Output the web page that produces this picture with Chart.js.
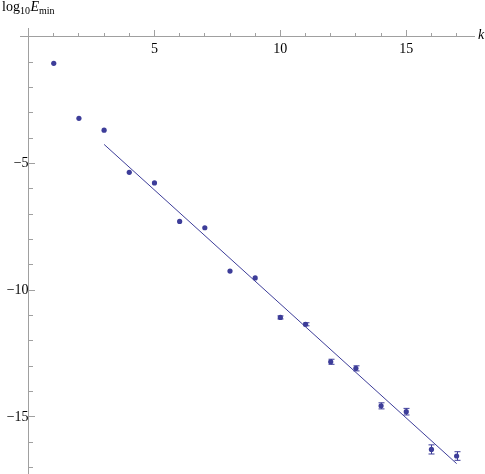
<!DOCTYPE html>
<html>
<head>
<meta charset="utf-8">
<script src="https://cdn.jsdelivr.net/npm/chart.js@4.4.1/dist/chart.umd.min.js"></script>
<style>
html,body{margin:0;padding:0;background:#fff;}
canvas{display:block;}
</style>
</head>
<body>
<canvas id="c" width="485" height="474"></canvas>
<script>
// ---- data ----
const kValues = [1,2,3,4,5,6,7,8,9,10,11,12,13,14,15,16,17];
const log10Emin = [-1.04,-3.21,-3.68,-5.34,-5.76,-7.28,-7.53,-9.24,-9.51,-11.07,-11.34,-12.82,-13.08,-14.56,-14.79,-16.28,-16.54];
const errors = [0,0,0,0,0,0,0,0,0,0.06,0.06,0.10,0.10,0.12,0.13,0.18,0.17];
const fitK = [3,17];
const fitY = [-4.24,-16.84];
const xMajorStep = 5, yMajorStep = 5;

const COL = '#3d3d99';
const AXIS = '#a0a0a0';
const FONT = "'Liberation Serif', 'Times New Roman', serif";

const xMin = -0.34, xMax = 17.69, yMin = -17.25, yMax = 0.355;

const errorBars = {
  id: 'errorBars',
  afterDatasetsDraw(chart) {
    const ctx = chart.ctx, xs = chart.scales.x, ys = chart.scales.y;
    ctx.save();
    ctx.strokeStyle = COL;
    ctx.lineWidth = 1;
    kValues.forEach((k, i) => {
      const e = errors[i];
      if (!e) return;
      const px = Math.round(xs.getPixelForValue(k)) + 0.5;
      const y1 = ys.getPixelForValue(log10Emin[i] + e);
      const y2 = ys.getPixelForValue(log10Emin[i] - e);
      ctx.beginPath();
      ctx.moveTo(px, y1); ctx.lineTo(px, y2);
      ctx.moveTo(px - 3, y1); ctx.lineTo(px + 3, y1);
      ctx.moveTo(px - 3, y2); ctx.lineTo(px + 3, y2);
      ctx.stroke();
    });
    ctx.restore();
  }
};

const axisLabels = {
  id: 'axisLabels',
  afterDraw(chart) {
    const ctx = chart.ctx;
    ctx.save();
    ctx.fillStyle = '#000';
    ctx.textBaseline = 'alphabetic';
    ctx.textAlign = 'left';
    let x = 2;
    ctx.font = '14px ' + FONT;
    ctx.fillText('log', x, 11); x += ctx.measureText('log').width;
    ctx.font = '10px ' + FONT;
    ctx.fillText('10', x, 14); x += ctx.measureText('10').width + 0.5;
    ctx.font = 'italic 14px ' + FONT;
    ctx.fillText('E', x, 11); x += ctx.measureText('E').width;
    ctx.font = '10px ' + FONT;
    ctx.fillText('min', x, 14);
    ctx.font = 'italic 14px ' + FONT;
    ctx.fillText('k', 478, 39);
    ctx.restore();
  }
};

const fmt = v => v === 0 ? '' : String(v).replace('-', '\u2212');
const noPad = s => { s.paddingTop = 0; s.paddingBottom = 0; s.paddingLeft = 0; s.paddingRight = 0; };

new Chart(document.getElementById('c'), {
  type: 'scatter',
  data: {
    datasets: [
      {
        data: kValues.map((k, i) => ({x: k, y: log10Emin[i]})),
        backgroundColor: COL,
        borderWidth: 0,
        pointRadius: 2.6,
        showLine: false
      },
      {
        type: 'line',
        data: fitK.map((k, i) => ({x: k, y: fitY[i]})),
        borderColor: COL,
        borderWidth: 1,
        pointRadius: 0,
        fill: false
      }
    ]
  },
  options: {
    responsive: false,
    animation: false,
    layout: {autoPadding: false, padding: {left: 20, right: 11, top: 28, bottom: 0}},
    plugins: {legend: {display: false}, tooltip: {enabled: false}},
    scales: {
      x: {
        type: 'linear', min: xMin, max: xMax,
        position: {y: 0},
        afterFit: noPad,
        border: {display: true, color: AXIS, width: 1},
        grid: {drawOnChartArea: false, drawTicks: true, tickLength: -7, color: AXIS},
        ticks: {stepSize: xMajorStep, includeBounds: false, padding: 11, maxRotation: 0, autoSkip: false,
                color: '#000', font: {family: FONT, size: 14}, callback: fmt}
      },
      xm: {
        type: 'linear', min: xMin, max: xMax,
        position: {y: 0},
        afterFit: noPad,
        border: {display: false},
        grid: {drawOnChartArea: false, drawTicks: true, tickLength: -4, color: AXIS},
        ticks: {stepSize: 1, includeBounds: false, display: false, autoSkip: false}
      },
      y: {
        type: 'linear', min: yMin, max: yMax,
        position: {x: 0},
        afterFit: noPad,
        border: {display: true, color: AXIS, width: 1},
        grid: {drawOnChartArea: false, drawTicks: true, tickLength: -7, color: AXIS},
        ticks: {stepSize: yMajorStep, includeBounds: false, padding: 12, autoSkip: false,
                color: '#000', font: {family: FONT, size: 14}, callback: fmt}
      },
      ym: {
        type: 'linear', min: yMin, max: yMax,
        position: {x: 0},
        afterFit: noPad,
        border: {display: false},
        grid: {drawOnChartArea: false, drawTicks: true, tickLength: -4, color: AXIS},
        ticks: {stepSize: 1, includeBounds: false, display: false, autoSkip: false}
      }
    }
  },
  plugins: [errorBars, axisLabels]
});
</script>
</body>
</html>
